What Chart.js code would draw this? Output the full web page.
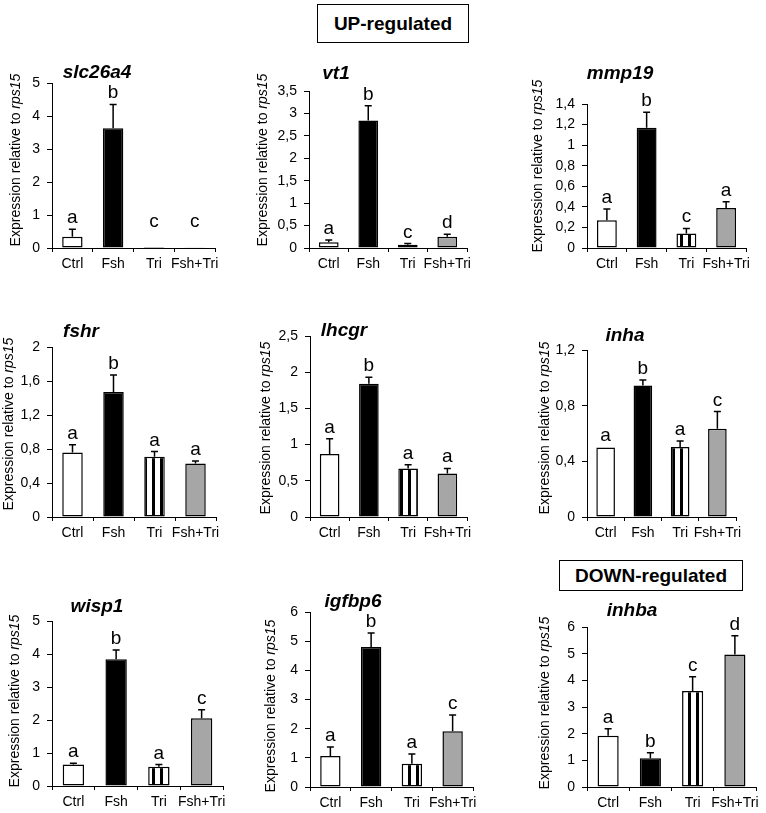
<!DOCTYPE html>
<html>
<head>
<meta charset="utf-8">
<script src="https://cdn.jsdelivr.net/npm/chart.js@4.4.1/dist/chart.umd.min.js"></script>
<style>
  body { margin: 0; background: #fff; }
  #wrap { position: relative; width: 766px; height: 813px; overflow: hidden; }
  #wrap canvas { position: absolute; left: 0; top: 0; }
  .tag {
    position: absolute; box-sizing: border-box; border: 1px solid #000;
    font: bold 19px "Liberation Sans", Arial, sans-serif; color: #000;
    text-align: center; background: #fff;
  }
</style>
</head>
<body>
<div id="wrap">
  <div class="tag" style="left:317px;top:4px;width:152px;height:39px;line-height:37px;">UP-regulated</div>
  <div class="tag" style="left:559px;top:560px;width:184px;height:31px;line-height:29px;">DOWN-regulated</div>
</div>
<script>
// Groups on the x axis
const groups = ["Ctrl", "Fsh", "Tri", "Fsh+Tri"];
const genes = ["slc26a4", "vt1", "mmp19", "fshr", "lhcgr", "inha", "wisp1", "igfbp6", "inhba"];

// Means, error (upper SEM) and significance letters, per gene
const slc26a4Mean = [0.34, 3.63, 0.003, 0.02];
const slc26a4Err = [0.23, 0.72, 0, 0];
const slc26a4Sig = ["a", "b", "c", "c"];

const vt1Mean = [0.13, 2.84, 0.07, 0.25];
const vt1Err = [0.05, 0.33, 0.03, 0.055];
const vt1Sig = ["a", "b", "c", "d"];

const mmp19Mean = [0.27, 1.17, 0.14, 0.39];
const mmp19Err = [0.11, 0.15, 0.05, 0.06];
const mmp19Sig = ["a", "b", "c", "a"];

const fshrMean = [0.76, 1.47, 0.71, 0.63];
const fshrErr = [0.09, 0.2, 0.06, 0.03];
const fshrSig = ["a", "b", "a", "a"];

const lhcgrMean = [0.87, 1.84, 0.67, 0.6];
const lhcgrErr = [0.21, 0.09, 0.05, 0.07];
const lhcgrSig = ["a", "b", "a", "a"];

const inhaMean = [0.5, 0.945, 0.503, 0.635];
const inhaErr = [0.005, 0.04, 0.044, 0.123];
const inhaSig = ["a", "b", "a", "c"];

const wisp1Mean = [0.65, 3.84, 0.58, 2.05];
const wisp1Err = [0.04, 0.28, 0.07, 0.26];
const wisp1Sig = ["a", "b", "a", "c"];

const igfbp6Mean = [1.06, 4.8, 0.8, 1.91];
const igfbp6Err = [0.31, 0.48, 0.33, 0.56];
const igfbp6Sig = ["a", "b", "a", "c"];

const inhbaMean = [1.92, 1.08, 3.6, 4.97];
const inhbaErr = [0.26, 0.2, 0.53, 0.7];
const inhbaSig = ["a", "b", "c", "d"];

// Lowest value a letter sits on (slc26a4 has letters over empty bars)
const sigFloor = [0.45, 0, 0, 0, 0, 0, 0, 0, 0];

// Y axis range and tick step
const yMax = [5, 3.5, 1.4, 2, 2.5, 1.2, 5, 6, 6];
const yStep = [1, 0.5, 0.2, 0.4, 0.5, 0.4, 1, 1, 1];

const means = [slc26a4Mean, vt1Mean, mmp19Mean, fshrMean, lhcgrMean, inhaMean, wisp1Mean, igfbp6Mean, inhbaMean];
const errs = [slc26a4Err, vt1Err, mmp19Err, fshrErr, lhcgrErr, inhaErr, wisp1Err, igfbp6Err, inhbaErr];
const sigs = [slc26a4Sig, vt1Sig, mmp19Sig, fshrSig, lhcgrSig, inhaSig, wisp1Sig, igfbp6Sig, inhbaSig];

// Where each panel sits on the page (plot area edges, title and axis title centres)
const panels = [
  { axisX: 52, endX: 215, topY: 83, zeroY: 248, tx: 97, ty: 78, lx: 16, ly: 160 },
  { axisX: 309, endX: 467, topY: 91, zeroY: 248, tx: 336, ty: 79, lx: 263, ly: 160 },
  { axisX: 587, endX: 746, topY: 104, zeroY: 248, tx: 620, ty: 79, lx: 538, ly: 166 },
  { axisX: 52, endX: 216, topY: 347, zeroY: 517, tx: 81, ty: 337, lx: 9, ly: 424 },
  { axisX: 310, endX: 467, topY: 336, zeroY: 517, tx: 344, ty: 336, lx: 266, ly: 428 },
  { axisX: 587, endX: 736, topY: 350, zeroY: 517, tx: 625, ty: 341, lx: 545, ly: 428 },
  { axisX: 52, endX: 223, topY: 621, zeroY: 786, tx: 97, ty: 612, lx: 15, ly: 701 },
  { axisX: 310, endX: 473, topY: 612, zeroY: 787, tx: 353, ty: 607, lx: 271, ly: 706 },
  { axisX: 587, endX: 756, topY: 627, zeroY: 787, tx: 632, ty: 616, lx: 545, ly: 703 },
];

const W = 766, H = 813;
const YAXIS_W = 45, XAXIS_H = 26;
const FONT = "'Liberation Sans', Arial, sans-serif";

Chart.defaults.font.family = FONT;
Chart.defaults.color = "#000";

// Vertical stripes for the Tri bars
function stripePattern() {
  var c = document.createElement("canvas");
  c.width = 8;
  c.height = 8;
  var g = c.getContext("2d");
  g.fillStyle = "#fff";
  g.fillRect(0, 0, 8, 8);
  g.fillStyle = "#000";
  g.fillRect(0, 0, 3, 8);
  return g.createPattern(c, "repeat");
}

// Error bars, letters, gene title and y axis title
const extrasPlugin = {
  id: "extras",
  afterDatasetsDraw(chart, args, opts) {
    const ctx = chart.ctx;
    const y = chart.scales.y;
    const bars = chart.getDatasetMeta(0).data;
    const vals = chart.data.datasets[0].data;

    ctx.save();
    ctx.strokeStyle = "#000";
    ctx.lineWidth = 1.5;
    bars.forEach((bar, i) => {
      const e = opts.err[i];
      if (e > 0.01) {
        const top = y.getPixelForValue(vals[i] + e);
        ctx.beginPath();
        ctx.moveTo(bar.x, bar.y);
        ctx.lineTo(bar.x, top);
        ctx.moveTo(bar.x - 3.5, top);
        ctx.lineTo(bar.x + 3.5, top);
        ctx.stroke();
      }
      // letter above the error bar
      const v = Math.max(vals[i] + e, opts.floor);
      ctx.fillStyle = "#000";
      ctx.font = "19px " + FONT;
      ctx.textAlign = "center";
      ctx.textBaseline = "alphabetic";
      ctx.fillText(opts.sig[i], bar.x, y.getPixelForValue(v) - 6);
    });

    // gene name
    ctx.font = "italic bold 19px " + FONT;
    ctx.textAlign = "center";
    ctx.fillText(opts.title, opts.tx, opts.ty);

    // "Expression relative to rps15" with rps15 in italics
    const a = "Expression relative to ";
    const b = "rps15";
    ctx.translate(opts.lx, opts.ly);
    ctx.rotate(-Math.PI / 2);
    ctx.textBaseline = "middle";
    ctx.textAlign = "left";
    ctx.font = "14px " + FONT;
    const wa = ctx.measureText(a).width;
    ctx.font = "italic 14px " + FONT;
    const wb = ctx.measureText(b).width;
    const x0 = -(wa + wb) / 2;
    ctx.font = "14px " + FONT;
    ctx.fillText(a, x0, 0);
    ctx.font = "italic 14px " + FONT;
    ctx.fillText(b, x0 + wa, 0);
    ctx.restore();
  },
};

function commaTick(v) {
  return String(Math.round(v * 10) / 10).replace(".", ",");
}

function addPanel(k) {
  const p = panels[k];
  const cv = document.createElement("canvas");
  cv.width = W;
  cv.height = H;
  document.getElementById("wrap").appendChild(cv);

  const colors = ["#ffffff", "#000000", stripePattern(), "#a6a6a6"];

  new Chart(cv.getContext("2d"), {
    type: "bar",
    data: {
      labels: groups,
      datasets: [
        {
          data: means[k],
          backgroundColor: colors,
          borderColor: "#000",
          borderWidth: 1.5,
          borderSkipped: false,
          barPercentage: 0.5,
          categoryPercentage: 1,
        },
      ],
    },
    options: {
      responsive: false,
      animation: false,
      events: [],
      layout: {
        autoPadding: false,
        padding: {
          left: p.axisX - YAXIS_W,
          right: W - p.endX,
          top: p.topY,
          bottom: H - p.zeroY - XAXIS_H,
        },
      },
      plugins: {
        legend: { display: false },
        tooltip: { enabled: false },
        extras: {
          err: errs[k],
          sig: sigs[k],
          floor: sigFloor[k],
          title: genes[k],
          tx: p.tx,
          ty: p.ty,
          lx: p.lx,
          ly: p.ly,
        },
      },
      scales: {
        x: {
          afterFit: (s) => { s.height = XAXIS_H; },
          grid: { offset: true, drawOnChartArea: false, drawTicks: true, tickLength: 4, color: "#000" },
          border: { color: "#000", width: 1 },
          ticks: { autoSkip: false, maxRotation: 0, minRotation: 0, padding: 4, font: { size: 14 } },
        },
        y: {
          min: 0,
          max: yMax[k],
          afterFit: (s) => { s.width = YAXIS_W; },
          grid: { drawOnChartArea: false, drawTicks: true, tickLength: 5, color: "#000" },
          border: { color: "#000", width: 1 },
          ticks: { stepSize: yStep[k], padding: 7, font: { size: 14 }, callback: commaTick },
        },
      },
    },
    plugins: [extrasPlugin],
  });
}

for (let k = 0; k < genes.length; k++) {
  addPanel(k);
}
</script>
</body>
</html>
